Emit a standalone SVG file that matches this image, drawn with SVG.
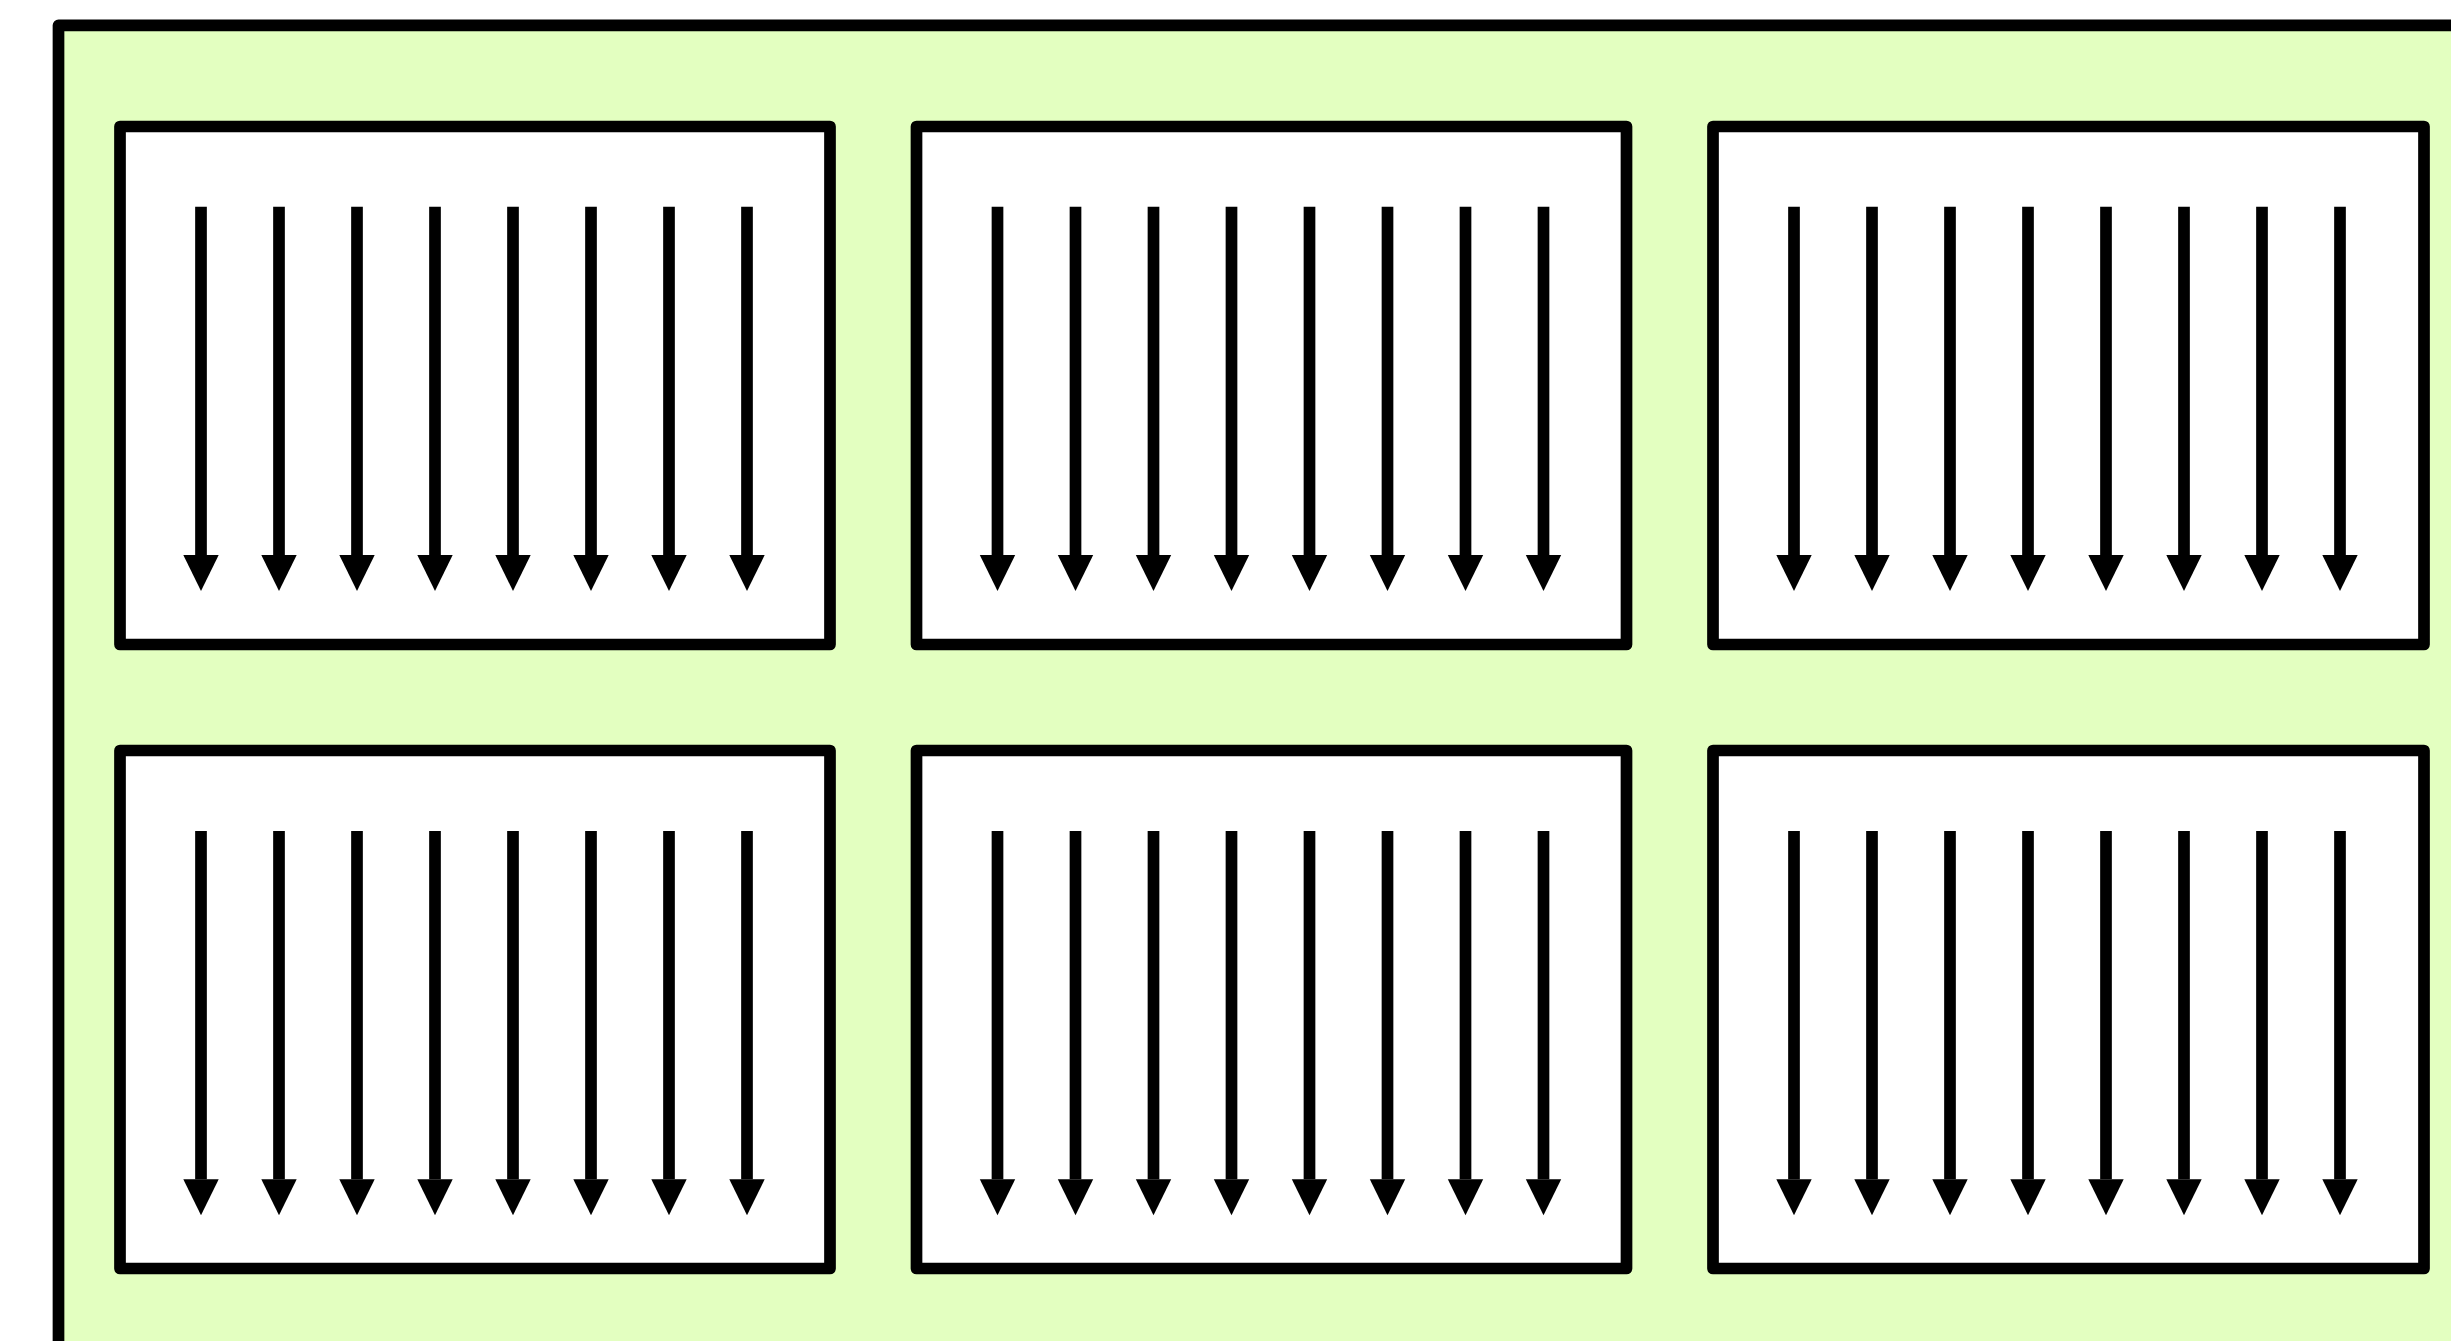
<svg xmlns="http://www.w3.org/2000/svg" width="2451" height="1341" viewBox="0 0 2451 1341">
<style>
.outer{fill:#e3ffc0;stroke:#000;stroke-width:11.7;stroke-linejoin:round}
.box{fill:#fff;stroke:#000;stroke-width:11.7;stroke-linejoin:round}
.arr{stroke:#000;stroke-width:11.7;fill:none;marker-end:url(#ah)}
</style>
<defs>
<marker id="ah" markerUnits="userSpaceOnUse" markerWidth="40" markerHeight="40" viewBox="0 -20 40 40" refX="0" refY="0" orient="auto">
<path d="M0,-17.7 L36,0 L0,17.7 Z" fill="#000"/>
</marker>
</defs>
<rect width="2451" height="1341" fill="#fff"/>
<g id="container">
<rect class="outer" x="58.5" y="25.3" width="2460" height="1400"/>
</g>
<g id="box-r1c1"><rect class="box" x="120" y="126.5" width="710" height="518"/></g>
<g id="box-r1c2"><rect class="box" x="916.5" y="126.5" width="710" height="518"/></g>
<g id="box-r1c3"><rect class="box" x="1713" y="126.5" width="711" height="518"/></g>
<g id="box-r2c1"><rect class="box" x="120" y="750.5" width="710" height="518"/></g>
<g id="box-r2c2"><rect class="box" x="916.5" y="750.5" width="710" height="518"/></g>
<g id="box-r2c3"><rect class="box" x="1713" y="750.5" width="711" height="518"/></g>
<g id="connectors">
<path class="arr" d="M201,206.7V555"/><path class="arr" d="M279,206.7V555"/><path class="arr" d="M357,206.7V555"/><path class="arr" d="M435,206.7V555"/><path class="arr" d="M513,206.7V555"/><path class="arr" d="M591,206.7V555"/><path class="arr" d="M669,206.7V555"/><path class="arr" d="M747,206.7V555"/>
<path class="arr" d="M997.5,206.7V555"/><path class="arr" d="M1075.5,206.7V555"/><path class="arr" d="M1153.5,206.7V555"/><path class="arr" d="M1231.5,206.7V555"/><path class="arr" d="M1309.5,206.7V555"/><path class="arr" d="M1387.5,206.7V555"/><path class="arr" d="M1465.5,206.7V555"/><path class="arr" d="M1543.5,206.7V555"/>
<path class="arr" d="M1794,206.7V555"/><path class="arr" d="M1872,206.7V555"/><path class="arr" d="M1950,206.7V555"/><path class="arr" d="M2028,206.7V555"/><path class="arr" d="M2106,206.7V555"/><path class="arr" d="M2184,206.7V555"/><path class="arr" d="M2262,206.7V555"/><path class="arr" d="M2340,206.7V555"/>
<path class="arr" d="M201,831V1179.3"/><path class="arr" d="M279,831V1179.3"/><path class="arr" d="M357,831V1179.3"/><path class="arr" d="M435,831V1179.3"/><path class="arr" d="M513,831V1179.3"/><path class="arr" d="M591,831V1179.3"/><path class="arr" d="M669,831V1179.3"/><path class="arr" d="M747,831V1179.3"/>
<path class="arr" d="M997.5,831V1179.3"/><path class="arr" d="M1075.5,831V1179.3"/><path class="arr" d="M1153.5,831V1179.3"/><path class="arr" d="M1231.5,831V1179.3"/><path class="arr" d="M1309.5,831V1179.3"/><path class="arr" d="M1387.5,831V1179.3"/><path class="arr" d="M1465.5,831V1179.3"/><path class="arr" d="M1543.5,831V1179.3"/>
<path class="arr" d="M1794,831V1179.3"/><path class="arr" d="M1872,831V1179.3"/><path class="arr" d="M1950,831V1179.3"/><path class="arr" d="M2028,831V1179.3"/><path class="arr" d="M2106,831V1179.3"/><path class="arr" d="M2184,831V1179.3"/><path class="arr" d="M2262,831V1179.3"/><path class="arr" d="M2340,831V1179.3"/>
</g>
</svg>
